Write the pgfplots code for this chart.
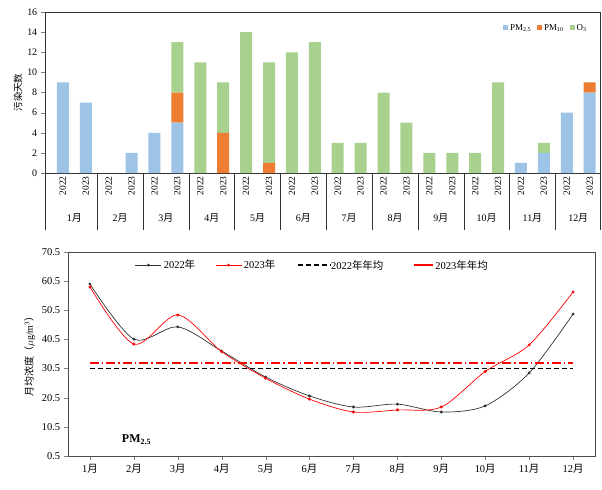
\documentclass[border=0pt]{standalone}
\usepackage{pgfplots}
\pgfplotsset{compat=1.18}
\usepackage{pgfplotstable}
\usepackage{fontspec}
\setmainfont{Liberation Serif}
\newfontfamily\cjk{Noto Sans CJK SC}
\newcommand\yue{{\cjk 月}}
\newcommand\nian{{\cjk 年}}
\definecolor{cblue}{RGB}{157,195,230}
\definecolor{corange}{RGB}{237,125,49}
\definecolor{cgreen}{RGB}{169,209,142}
\pgfplotstableread{
idx pmtwo pmten othree
0 9 0 0
1 7 0 0
2 0 0 0
3 2 0 0
4 4 0 0
5 5 3 5
6 0 0 11
7 0 4 5
8 0 0 14
9 0 1 10
10 0 0 12
11 0 0 13
12 0 0 3
13 0 0 3
14 0 0 8
15 0 0 5
16 0 0 2
17 0 0 2
18 0 0 2
19 0 0 9
20 1 0 0
21 2 0 1
22 6 0 0
23 8 1 0
}\daystable
\begin{document}
\begin{tikzpicture}
\path[use as bounding box] (0bp,0bp) rectangle (602bp,-490bp);
\begin{axis}[
  at={(45bp,-12bp)}, anchor=north west,
  width=555bp, height=161bp, scale only axis,
  ybar stacked, bar width=12bp,
  xmin=-0.78, xmax=23.45, ymin=0, ymax=16,
  ytick={0,2,...,16},
  xtick={0,...,23},
  xticklabels={2022,2023,2022,2023,2022,2023,2022,2023,2022,2023,2022,2023,2022,2023,2022,2023,2022,2023,2022,2023,2022,2023,2022,2023},
  x tick label style={rotate=90, anchor=east, font=\fontsize{9.5}{10}\selectfont},
  y tick label style={font=\fontsize{10}{11}\selectfont},
  major x tick style={draw=none},
  ytick align=outside, ytick pos=left,
  /pgf/number format/assume math mode=true,
  ylabel={\cjk 污染天数}, ylabel style={font=\fontsize{9.5}{10}\selectfont, yshift=-2bp},
  axis line style={black!80},
  clip=false,
  legend style={at={(0.985,0.95)}, anchor=north east, draw=none, fill=none,
    legend columns=3, font=\fontsize{9}{10}\selectfont,
    /tikz/every even column/.append style={column sep=4bp}},
  legend image code/.code={\draw[#1, draw=none] (0bp,-2.5bp) rectangle (5bp,2.5bp);},
]
\addplot[fill=cblue, draw=none] table[x=idx, y=pmtwo] {\daystable};
\addplot[fill=corange, draw=none] table[x=idx, y=pmten] {\daystable};
\addplot[fill=cgreen, draw=none] table[x=idx, y=othree] {\daystable};
\legend{PM\textsubscript{2.5}, PM\textsubscript{10}, O\textsubscript{3}}
\pgfplotsinvokeforeach{-0.78,1.5,3.5,5.5,7.5,9.5,11.5,13.5,15.5,17.5,19.5,21.5,23.45}{
  \draw[black!80] (axis cs:#1,0) -- ([yshift=-57bp]axis cs:#1,0);
}
\node[font=\fontsize{10}{11}\selectfont] at ([yshift=-45bp]axis cs:0.5,0) {1\yue};
\node[font=\fontsize{10}{11}\selectfont] at ([yshift=-45bp]axis cs:2.5,0) {2\yue};
\node[font=\fontsize{10}{11}\selectfont] at ([yshift=-45bp]axis cs:4.5,0) {3\yue};
\node[font=\fontsize{10}{11}\selectfont] at ([yshift=-45bp]axis cs:6.5,0) {4\yue};
\node[font=\fontsize{10}{11}\selectfont] at ([yshift=-45bp]axis cs:8.5,0) {5\yue};
\node[font=\fontsize{10}{11}\selectfont] at ([yshift=-45bp]axis cs:10.5,0) {6\yue};
\node[font=\fontsize{10}{11}\selectfont] at ([yshift=-45bp]axis cs:12.5,0) {7\yue};
\node[font=\fontsize{10}{11}\selectfont] at ([yshift=-45bp]axis cs:14.5,0) {8\yue};
\node[font=\fontsize{10}{11}\selectfont] at ([yshift=-45bp]axis cs:16.5,0) {9\yue};
\node[font=\fontsize{10}{11}\selectfont] at ([yshift=-45bp]axis cs:18.5,0) {10\yue};
\node[font=\fontsize{10}{11}\selectfont] at ([yshift=-45bp]axis cs:20.5,0) {11\yue};
\node[font=\fontsize{10}{11}\selectfont] at ([yshift=-45bp]axis cs:22.5,0) {12\yue};
\end{axis}

\begin{axis}[
  at={(68bp,-252bp)}, anchor=north west,
  width=527bp, height=204bp, scale only axis,
  xmin=0.5, xmax=12.5, ymin=0.5, ymax=70.5,
  ytick={0.5,10.5,20.5,30.5,40.5,50.5,60.5,70.5},
  xtick={1,...,12},
  xticklabels={1\yue,2\yue,3\yue,4\yue,5\yue,6\yue,7\yue,8\yue,9\yue,10\yue,11\yue,12\yue},
  yticklabel style={/pgf/number format/.cd, fixed, fixed zerofill, precision=1},
  /pgf/number format/assume math mode=true,
  tick label style={font=\fontsize{10.5}{11}\selectfont},
  tick align=outside, xtick pos=bottom, ytick pos=left,
  axis line style={black!70},
  ylabel={{\cjk 月均浓度（}$\mu$g/m\textsuperscript{3}{\cjk ）}},
  ylabel style={font=\fontsize{10}{11}\selectfont, yshift=0bp},
  legend style={at={(0.127,0.936)}, anchor=west, draw=none, fill=none,
    legend columns=2, font=\fontsize{10.5}{11}\selectfont, inner sep=0pt,
    /tikz/every even column/.append style={column sep=18bp}},
  legend image code/.code={\draw[mark repeat=2, mark phase=2, mark size=1bp, #1] plot coordinates {(0bp,0bp)(13bp,0bp)(26bp,0bp)};},
]
\addplot[black!80, line width=0.7pt, smooth, mark=*, mark size=1.1bp] coordinates {
(1,59.5)(2,40.6)(3,44.8)(4,36.5)(5,27.6)(6,21.1)(7,17.3)(8,18.3)(9,15.6)(10,17.7)(11,29.0)(12,49.2)};
\addlegendentry{2022\nian}
\addplot[red, line width=0.7pt, smooth, mark=*, mark size=1.1bp] coordinates {
(1,58.5)(2,38.9)(3,48.9)(4,36.3)(5,27.2)(6,20.0)(7,15.6)(8,16.3)(9,17.3)(10,29.5)(11,38.6)(12,56.8)};
\addlegendentry{2023\nian}
\addplot[forget plot, black, line width=1.3pt, dash pattern=on 5bp off 3bp] coordinates {(1,30.5)(12,30.5)};
\addplot[forget plot, red, line width=1.3pt, dash pattern=on 9bp off 3bp on 1.5bp off 3bp] coordinates {(1,32.4)(12,32.4)};
\draw[black, line width=1.3pt, dash pattern=on 5bp off 3bp] (rel axis cs:0.436,0.936) -- (rel axis cs:0.497,0.936);
\node[anchor=west, inner sep=1bp, font=\fontsize{10.5}{11}\selectfont] at (rel axis cs:0.497,0.936) {2022{\cjk 年年均}};
\draw[red, line width=1.3pt] (rel axis cs:0.656,0.936) -- (rel axis cs:0.693,0.936);
\node[anchor=west, inner sep=1bp, font=\fontsize{10.5}{11}\selectfont] at (rel axis cs:0.695,0.936) {2023{\cjk 年年均}};
\node[font=\bfseries\fontsize{12}{13}\selectfont] at (rel axis cs:0.13,0.08) {PM\textsubscript{2.5}};
\end{axis}
\end{tikzpicture}
\end{document}
